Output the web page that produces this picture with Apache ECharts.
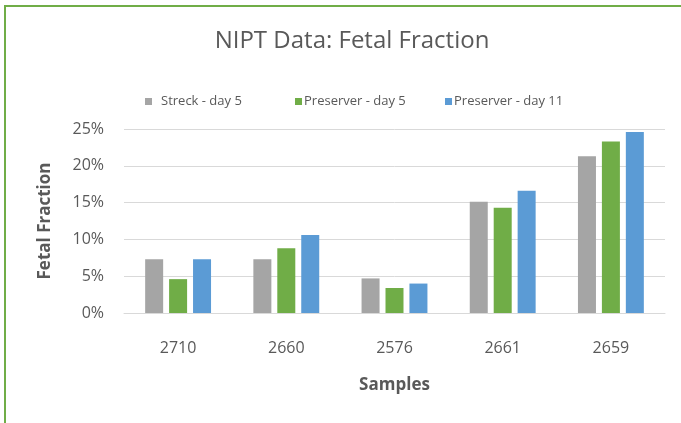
<!DOCTYPE html>
<html>
<head>
<meta charset="utf-8">
<script src="https://cdn.jsdelivr.net/npm/echarts@6/dist/echarts.min.js"></script>
<style>
html,body{margin:0;padding:0;background:#fff;}
#wrap{position:relative;width:681px;height:423px;overflow:hidden;}
#chart{position:absolute;left:0;top:0;width:681px;height:423px;}
#bt{position:absolute;left:4px;top:5px;width:677px;height:2px;background:#70ad47;}
#bl{position:absolute;left:4px;top:5px;width:2px;height:418px;background:#70ad47;}
</style>
</head>
<body>
<div id="wrap"><div id="chart"></div><div id="bt"></div><div id="bl"></div></div>
<script>
const categories = ['2710', '2660', '2576', '2661', '2659'];
const seriesNames = ['Streck - day 5', 'Preserver - day 5', 'Preserver - day 11'];
const streckDay5 = [7.3, 7.3, 4.7, 15.1, 21.3];
const preserverDay5 = [4.6, 8.8, 3.4, 14.3, 23.3];
const preserverDay11 = [7.3, 10.6, 4.0, 16.6, 24.6];
const colors = ['#a5a5a5', '#70ad47', '#5b9bd5'];
const yTicks = [0, 5, 10, 15, 20, 25];

const FONT = '"Open Sans", sans-serif';
const TXT = '#595959';
const chart = echarts.init(document.getElementById('chart'), null, {renderer: 'canvas'});
const data = [streckDay5, preserverDay5, preserverDay11];
const legendLefts = [140, 290, 440];
const legendPads = [[0, 0, 0, 4], [0, 0, 0, -3], [0, 0, 0, -3]];
chart.setOption({
  animation: false,
  backgroundColor: '#fff',
  title: {
    text: 'NIPT Data: Fetal Fraction',
    left: 347, top: 24, textAlign: 'center',
    textStyle: {fontFamily: FONT, fontSize: 24, fontWeight: 'normal', color: TXT}
  },
  legend: seriesNames.map((n, i) => ({
    left: legendLefts[i], top: 90,
    itemWidth: 7, itemHeight: 7,
    icon: 'rect',
    textStyle: {fontFamily: FONT, fontSize: 13, color: TXT, padding: legendPads[i]},
    data: [n]
  })),
  grid: {left: 124, right: 16, top: 129, bottom: 110, containLabel: false},
  xAxis: {
    type: 'category', data: categories,
    name: 'Samples', nameLocation: 'middle', nameGap: 64,
    nameTextStyle: {fontFamily: FONT, fontSize: 17, fontWeight: 'bold', color: TXT},
    axisLine: {lineStyle: {color: '#d9d9d9'}},
    axisTick: {show: false},
    axisLabel: {fontFamily: FONT, fontSize: 16, color: TXT, margin: 27}
  },
  yAxis: {
    type: 'value', min: yTicks[0], max: yTicks[yTicks.length - 1], interval: 5,
    name: 'Fetal Fraction', nameLocation: 'middle', nameGap: 70,
    nameTextStyle: {fontFamily: FONT, fontSize: 17, fontWeight: 'bold', color: TXT},
    axisLine: {show: false}, axisTick: {show: false},
    splitLine: {lineStyle: {color: '#d9d9d9'}},
    axisLabel: {fontFamily: FONT, fontSize: 16, color: TXT, margin: 20, formatter: v => v + '%'}
  },
  series: seriesNames.map((n, i) => ({
    name: n, type: 'bar', data: data[i], barWidth: 18, barGap: '33%',
    itemStyle: {color: colors[i]}
  }))
});
</script>
</body>
</html>
